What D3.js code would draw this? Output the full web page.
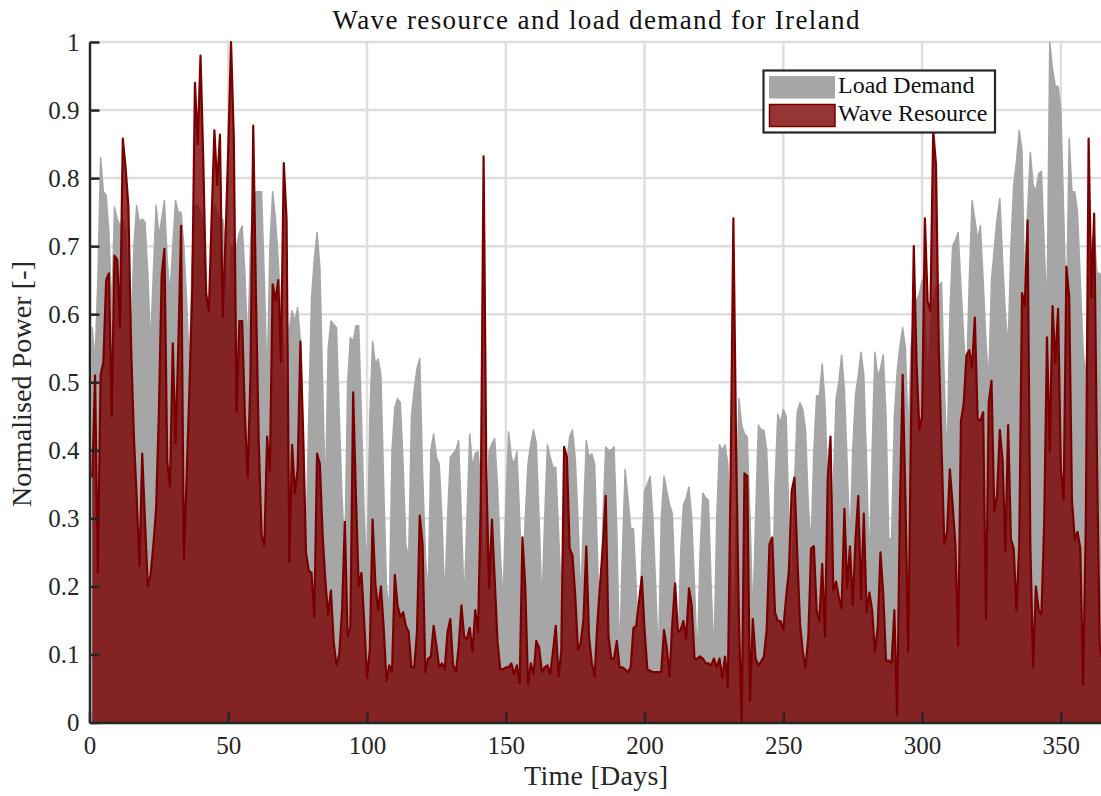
<!DOCTYPE html>
<html>
<head>
<meta charset="utf-8">
<script src="https://cdn.jsdelivr.net/npm/d3@7"></script>
<style>
  body { margin: 0; background: #fff; }
  svg { display: block; }
  text { font-family: "Liberation Serif", "Times New Roman", serif; }
</style>
</head>
<body>
<svg id="chart" width="1101" height="796"></svg>
<script>
// Daily normalised load demand, day 1 .. 365
const loadDemand = [
  0.58,0.53,0.65,0.83,0.78,0.775,0.72,0.6,0.757,0.74,
  0.73,0.74,0.72,0.64,0.56,0.7,0.76,0.735,0.74,0.735,
  0.66,0.553,0.66,0.76,0.715,0.74,0.767,0.68,0.63,0.7,
  0.767,0.75,0.75,0.7,0.62,0.52,0.68,0.76,0.76,0.75,
  0.74,0.66,0.56,0.72,0.76,0.75,0.74,0.74,0.7,0.6,
  0.7,0.7,0.7,0.72,0.73,0.66,0.55,0.7,0.773,0.78,
  0.78,0.78,0.65,0.5,0.7,0.78,0.74,0.68,0.6,0.55,
  0.45,0.58,0.605,0.59,0.61,0.56,0.42,0.26,0.45,0.625,
  0.68,0.72,0.67,0.5,0.33,0.55,0.59,0.585,0.58,0.45,
  0.33,0.243,0.5,0.566,0.56,0.583,0.583,0.45,0.3,0.217,
  0.45,0.56,0.527,0.534,0.51,0.35,0.2,0.165,0.4,0.463,
  0.476,0.47,0.38,0.26,0.243,0.45,0.49,0.52,0.535,0.37,
  0.25,0.18,0.4,0.424,0.39,0.38,0.3,0.178,0.3,0.39,
  0.395,0.4,0.414,0.3,0.175,0.3,0.424,0.375,0.395,0.398,
  0.35,0.18,0.3,0.4,0.41,0.417,0.35,0.25,0.178,0.32,
  0.427,0.39,0.38,0.398,0.3,0.184,0.3,0.38,0.41,0.43,
  0.41,0.3,0.17,0.3,0.408,0.39,0.375,0.375,0.28,0.184,
  0.3,0.38,0.42,0.43,0.39,0.3,0.18,0.3,0.414,0.39,
  0.395,0.38,0.25,0.1,0.3,0.405,0.4,0.4,0.405,0.28,
  0.09,0.25,0.372,0.33,0.285,0.285,0.2,0.09,0.25,0.34,
  0.35,0.362,0.3,0.2,0.09,0.3,0.362,0.34,0.32,0.307,
  0.2,0.09,0.25,0.32,0.33,0.346,0.3,0.2,0.09,0.25,
  0.337,0.33,0.327,0.2,0.095,0.3,0.408,0.4,0.408,0.38,
  0.25,0.1,0.3,0.476,0.437,0.424,0.42,0.3,0.15,0.3,
  0.437,0.43,0.43,0.4,0.3,0.15,0.35,0.453,0.44,0.46,
  0.45,0.3,0.17,0.35,0.456,0.47,0.46,0.43,0.32,0.26,
  0.4,0.48,0.48,0.527,0.47,0.35,0.23,0.35,0.476,0.5,
  0.54,0.49,0.38,0.26,0.4,0.482,0.51,0.544,0.51,0.38,
  0.23,0.4,0.544,0.508,0.52,0.54,0.45,0.27,0.27,0.45,
  0.515,0.553,0.58,0.55,0.42,0.55,0.6,0.62,0.63,0.65,
  0.6,0.5,0.58,0.62,0.64,0.64,0.647,0.5,0.38,0.6,
  0.7,0.709,0.72,0.64,0.565,0.5,0.65,0.767,0.74,0.71,
  0.73,0.65,0.56,0.5,0.65,0.696,0.74,0.77,0.68,0.6,
  0.553,0.7,0.79,0.825,0.87,0.84,0.62,0.75,0.838,0.79,
  0.78,0.806,0.81,0.7,0.6,1.0,0.96,0.935,0.935,0.9,
  0.75,0.6,0.858,0.78,0.78,0.75,0.65,0.55,0.5,0.65,
  0.7,0.72,0.66,0.66,0.65
];

// Daily normalised wave resource, day 1 .. 365
const waveResource = [
  0.36,0.51,0.22,0.51,0.53,0.65,0.66,0.45,0.686,0.68,
  0.58,0.858,0.815,0.76,0.55,0.42,0.33,0.23,0.395,0.295,
  0.2,0.217,0.26,0.314,0.456,0.657,0.696,0.385,0.346,0.557,
  0.41,0.553,0.73,0.24,0.36,0.49,0.63,0.94,0.85,0.98,
  0.825,0.63,0.605,0.74,0.87,0.79,0.864,0.595,0.71,0.845,
  1.0,0.858,0.456,0.59,0.59,0.45,0.36,0.51,0.877,0.62,
  0.41,0.275,0.26,0.42,0.37,0.644,0.62,0.65,0.53,0.822,
  0.74,0.236,0.408,0.337,0.372,0.56,0.424,0.25,0.223,0.22,
  0.155,0.395,0.38,0.275,0.207,0.158,0.194,0.117,0.084,0.1,
  0.165,0.295,0.126,0.14,0.485,0.333,0.2,0.22,0.146,0.065,
  0.107,0.298,0.204,0.165,0.2,0.14,0.061,0.084,0.074,0.217,
  0.172,0.155,0.162,0.142,0.133,0.081,0.081,0.133,0.304,0.262,
  0.074,0.094,0.097,0.142,0.113,0.081,0.087,0.078,0.133,0.152,
  0.084,0.074,0.11,0.172,0.126,0.123,0.139,0.104,0.165,0.133,
  0.33,0.832,0.36,0.197,0.298,0.21,0.12,0.078,0.078,0.081,
  0.081,0.087,0.071,0.084,0.058,0.272,0.2,0.055,0.087,0.071,
  0.12,0.11,0.074,0.081,0.084,0.071,0.104,0.142,0.068,0.104,
  0.405,0.39,0.256,0.246,0.188,0.107,0.117,0.152,0.259,0.126,
  0.087,0.068,0.146,0.204,0.262,0.333,0.126,0.094,0.094,0.12,
  0.081,0.081,0.078,0.074,0.081,0.139,0.142,0.178,0.214,0.136,
  0.078,0.076,0.074,0.074,0.074,0.074,0.136,0.11,0.068,0.146,
  0.204,0.133,0.136,0.149,0.123,0.197,0.172,0.094,0.094,0.097,
  0.094,0.087,0.087,0.084,0.094,0.081,0.094,0.065,0.097,0.052,
  0.36,0.741,0.4,0.15,0.0,0.366,0.362,0.032,0.152,0.094,
  0.084,0.09,0.097,0.136,0.262,0.272,0.162,0.149,0.149,0.136,
  0.184,0.223,0.34,0.36,0.25,0.146,0.104,0.081,0.126,0.256,
  0.259,0.165,0.149,0.233,0.126,0.36,0.42,0.194,0.207,0.184,
  0.168,0.314,0.197,0.259,0.172,0.269,0.333,0.181,0.307,0.162,
  0.191,0.165,0.104,0.139,0.25,0.188,0.091,0.091,0.087,0.165,
  0.01,0.314,0.511,0.327,0.104,0.437,0.7,0.528,0.43,0.45,
  0.741,0.618,0.605,0.87,0.82,0.553,0.405,0.262,0.28,0.372,
  0.32,0.262,0.113,0.443,0.469,0.54,0.547,0.521,0.595,0.447,
  0.443,0.456,0.152,0.47,0.502,0.311,0.333,0.43,0.385,0.252,
  0.437,0.269,0.256,0.165,0.262,0.631,0.612,0.738,0.262,0.081,
  0.2,0.165,0.159,0.295,0.566,0.398,0.612,0.528,0.608,0.372,
  0.327,0.67,0.625,0.327,0.269,0.28,0.256,0.055,0.295,0.858,
  0.625,0.748,0.392,0.113,0.09
];

const xTicks = [0, 50, 100, 150, 200, 250, 300, 350];
const yTicks = [0, 0.1, 0.2, 0.3, 0.4, 0.5, 0.6, 0.7, 0.8, 0.9, 1];
const yTickLabels = ["0", "0.1", "0.2", "0.3", "0.4", "0.5", "0.6", "0.7", "0.8", "0.9", "1"];
const seriesNames = ["Load Demand", "Wave Resource"];

const svg = d3.select("#chart");
const axisColor = "#262626";
const gridColor = "#dedede";
const grayFill = "#a6a6a6";
const redFill = "rgba(124,3,3,0.8)";
const redEdge = "#7a0000";

const x = d3.scaleLinear().domain([0, 365]).range([89.5, 1102.5]);
const y = d3.scaleLinear().domain([0, 1]).range([722.5, 42]);

const load = loadDemand.map((v, i) => ({ day: i + 1, v }));
const wave = waveResource.map((v, i) => ({ day: i + 1, v }));

// grid
const grid = svg.append("g");
grid.selectAll("line.h").data(yTicks.filter(t => t > 0)).join("line")
  .attr("x1", x(0)).attr("x2", x(365))
  .attr("y1", d => y(d)).attr("y2", d => y(d))
  .attr("stroke", gridColor).attr("stroke-width", 2.5);
grid.selectAll("line.v").data(xTicks.filter(t => t > 0)).join("line")
  .attr("x1", d => x(d)).attr("x2", d => x(d))
  .attr("y1", y(0)).attr("y2", y(1))
  .attr("stroke", gridColor).attr("stroke-width", 2.5);

// areas
const area = d3.area().x(d => x(d.day)).y0(y(0)).y1(d => y(d.v));
const line = d3.line().x(d => x(d.day)).y(d => y(d.v));

svg.append("path").datum(load)
  .attr("d", area)
  .attr("fill", grayFill)
  .attr("stroke", grayFill).attr("stroke-width", 1.5)
  .attr("stroke-linejoin", "round");

svg.append("path").datum(wave)
  .attr("d", area)
  .attr("fill", redFill);

svg.append("path").datum(wave)
  .attr("d", line)
  .attr("fill", "none")
  .attr("stroke", redEdge).attr("stroke-width", 2.2)
  .attr("stroke-linejoin", "round");

// axes
const yAxis = d3.axisLeft(y).tickValues(yTicks)
  .tickFormat((d, i) => yTickLabels[i])
  .tickSize(-10).tickSizeOuter(0).tickPadding(10);
const xAxis = d3.axisBottom(x).tickValues(xTicks)
  .tickSize(-10).tickSizeOuter(0).tickPadding(14);

const gy = svg.append("g").attr("transform", `translate(${x(0)},0)`).call(yAxis);
const gx = svg.append("g").attr("transform", `translate(0,${y(0)})`).call(xAxis);

[gx, gy].forEach(g => {
  g.attr("font-family", null);
  g.select(".domain").attr("stroke", axisColor).attr("stroke-width", 2.5);
  g.selectAll(".tick line").attr("stroke", axisColor).attr("stroke-width", 2.5);
  g.selectAll(".tick text")
    .attr("fill", axisColor)
    .style("font-family", '"Liberation Serif","Times New Roman",serif')
    .style("font-size", "25px");
});

// title and labels
svg.append("text")
  .attr("x", 596).attr("y", 29)
  .attr("text-anchor", "middle")
  .attr("textLength", 527).attr("lengthAdjust", "spacing")
  .attr("fill", "#111")
  .style("font-size", "27px")
  .text("Wave resource and load demand for Ireland");

svg.append("text")
  .attr("x", 596).attr("y", 785)
  .attr("text-anchor", "middle")
  .attr("textLength", 144).attr("lengthAdjust", "spacing")
  .attr("fill", axisColor)
  .style("font-size", "28px")
  .text("Time [Days]");

svg.append("text")
  .attr("transform", "translate(31,384) rotate(-90)")
  .attr("text-anchor", "middle")
  .attr("textLength", 246).attr("lengthAdjust", "spacing")
  .attr("fill", axisColor)
  .style("font-size", "28px")
  .text("Normalised Power [-]");

// legend
const lg = svg.append("g");
lg.append("rect")
  .attr("x", 763.5).attr("y", 70.5).attr("width", 231.5).attr("height", 62)
  .attr("fill", "#fff").attr("stroke", axisColor).attr("stroke-width", 2.2);
lg.append("rect")
  .attr("x", 769).attr("y", 76).attr("width", 66).attr("height", 22.5)
  .attr("fill", grayFill);
lg.append("rect")
  .attr("x", 769.5).attr("y", 104.5).attr("width", 65.5).attr("height", 22)
  .attr("fill", redFill).attr("stroke", redEdge).attr("stroke-width", 1.5);
lg.selectAll("text.item").data(seriesNames).join("text")
  .attr("x", 838).attr("y", (d, i) => 93 + i * 28)
  .attr("fill", "#111")
  .style("font-size", "24px")
  .text(d => d);
</script>
</body>
</html>
